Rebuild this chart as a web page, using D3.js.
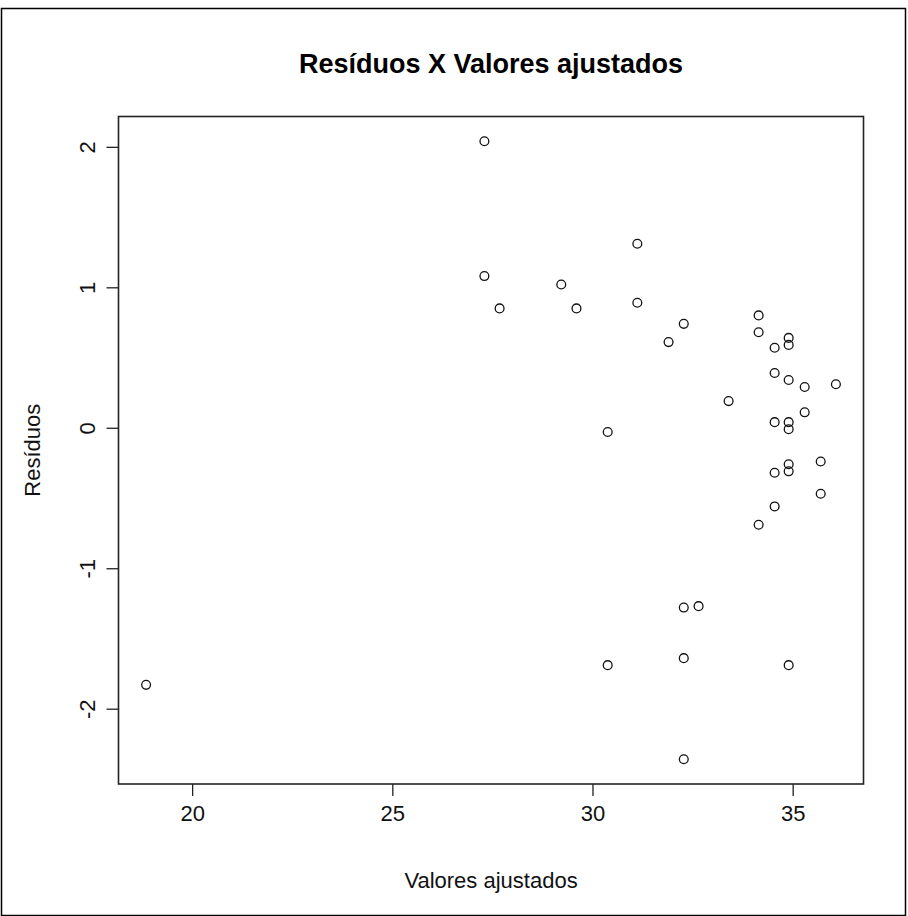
<!DOCTYPE html>
<html>
<head>
<meta charset="utf-8">
<script src="https://cdn.jsdelivr.net/npm/d3@7"></script>
<style>
  html, body { margin: 0; padding: 0; background: #fff; }
  svg { display: block; font-family: "Liberation Sans", Arial, sans-serif; }
</style>
</head>
<body>
<svg id="chart" width="908" height="916"></svg>
<script>
// Fitted values (x) and residuals (y)
const fitted = [27.3, 27.3, 27.68, 29.22, 29.6, 31.12, 31.12, 32.28, 31.9, 30.38,
                33.4, 34.15, 34.15, 34.9, 34.9, 34.55, 34.55, 34.9, 35.3, 36.08,
                35.3, 34.55, 34.9, 34.9, 35.7, 34.9, 34.9, 34.55, 35.7, 34.55,
                34.15, 32.28, 32.65, 32.28, 30.38, 34.9, 32.28, 18.85];
const residuals = [2.04, 1.08, 0.85, 1.02, 0.85, 1.31, 0.89, 0.74, 0.61, -0.03,
                   0.19, 0.80, 0.68, 0.64, 0.59, 0.57, 0.39, 0.34, 0.29, 0.31,
                   0.11, 0.04, 0.04, -0.01, -0.24, -0.26, -0.31, -0.32, -0.47, -0.56,
                   -0.69, -1.28, -1.27, -1.64, -1.69, -1.69, -2.36, -1.83];
const xTicks = [20, 25, 30, 35];
const yTicks = [-2, -1, 0, 1, 2];

const titleText = "Resíduos X Valores ajustados";
const xLabel = "Valores ajustados";
const yLabel = "Resíduos";

const svg = d3.select("#chart");

// Plot region
const plotLeft = 118.5, plotRight = 863.5, plotTop = 116.5, plotBottom = 784;
const labelSize = 22;

// Axis limits padded by 4% on each side of the data range
function padded(vals) {
  const [lo, hi] = d3.extent(vals);
  const d = (hi - lo) * 0.04;
  return [lo - d, hi + d];
}

const x = d3.scaleLinear().domain(padded(fitted)).range([plotLeft, plotRight]);
const y = d3.scaleLinear().domain(padded(residuals)).range([plotBottom, plotTop]);

// Outer frame
svg.append("rect")
  .attr("x", 1.5).attr("y", 8.5)
  .attr("width", 904).attr("height", 907)
  .attr("fill", "none").attr("stroke", "#000").attr("stroke-width", 1.5);

// Plot box
svg.append("rect")
  .attr("x", plotLeft).attr("y", plotTop)
  .attr("width", plotRight - plotLeft).attr("height", plotBottom - plotTop)
  .attr("fill", "none").attr("stroke", "#222").attr("stroke-width", 1.6);

// Bottom axis
const xAxis = d3.axisBottom(x).tickValues(xTicks).tickSize(12).tickPadding(9)
  .tickFormat(d3.format("d"));
const gx = svg.append("g").attr("transform", `translate(0,${plotBottom})`).call(xAxis);
gx.select(".domain").remove();
gx.selectAll(".tick line").attr("stroke", "#222").attr("stroke-width", 1.3);
gx.selectAll(".tick text").attr("font-size", labelSize).attr("fill", "#111")
  .attr("font-family", "'Liberation Sans', Arial, sans-serif");

// Left axis, labels rotated parallel to the axis
const yAxis = d3.axisLeft(y).tickValues(yTicks).tickSize(12)
  .tickFormat(d => d < 0 ? "-" + Math.abs(d) : String(d));
const gy = svg.append("g").attr("transform", `translate(${plotLeft},0)`).call(yAxis);
gy.select(".domain").remove();
gy.selectAll(".tick line").attr("stroke", "#222").attr("stroke-width", 1.3);
gy.selectAll(".tick text")
  .attr("x", null).attr("dy", null)
  .attr("transform", "translate(-31,0) rotate(-90)")
  .attr("text-anchor", "middle")
  .attr("dominant-baseline", "central")
  .attr("font-size", labelSize).attr("fill", "#111")
  .attr("font-family", "'Liberation Sans', Arial, sans-serif");

// Points
svg.append("g")
  .selectAll("circle")
  .data(fitted.map((f, i) => [f, residuals[i]]))
  .join("circle")
  .attr("cx", d => x(d[0]))
  .attr("cy", d => y(d[1]))
  .attr("r", 4.4)
  .attr("fill", "none")
  .attr("stroke", "#111")
  .attr("stroke-width", 1.3);

// Title and axis titles
svg.append("text")
  .attr("x", (plotLeft + plotRight) / 2).attr("y", 73)
  .attr("text-anchor", "middle")
  .attr("font-size", 27).attr("font-weight", "bold").attr("fill", "#000")
  .text(titleText);

svg.append("text")
  .attr("x", (plotLeft + plotRight) / 2).attr("y", 888)
  .attr("text-anchor", "middle")
  .attr("font-size", labelSize).attr("fill", "#111")
  .text(xLabel);

svg.append("text")
  .attr("transform", `translate(40,${(plotTop + plotBottom) / 2}) rotate(-90)`)
  .attr("text-anchor", "middle")
  .attr("font-size", labelSize).attr("fill", "#111")
  .text(yLabel);
</script>
</body>
</html>
